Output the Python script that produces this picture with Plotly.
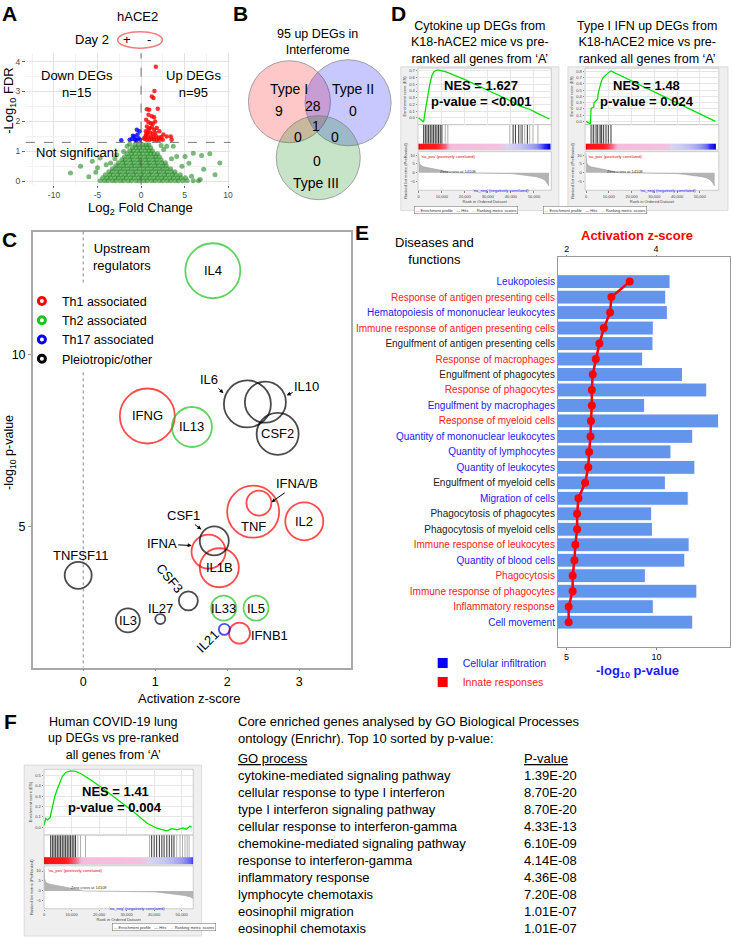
import plotly.graph_objects as go

W, H = 734, 938
FONT = "Arial, Liberation Sans, sans-serif"

# ============================ DATA ============================
# ---- A: volcano (log2 fold change vs -log10 FDR) ----
A_UP_X = [1.70, 1.54, 1.24, 1.43, 0.67, 0.93, 1.92, 0.86, 1.24, 1.50, 0.59, 0.86, 1.12, 1.35, 1.62, 0.67,
          0.97, 1.24, 1.50, 1.81, 0.55, 0.74, 1.05, 1.35, 1.66, 2.11, 2.57, 0.51, 0.82, 1.12, 1.43, 1.73,
          2.04, 2.34, 2.95, 3.41, 0.44, 0.67, 0.97, 1.24, 1.50, 1.81, 2.11, 2.49, 3.52, 0.36, 0.59, 0.86]
A_UP_Y = [3.83, 3.02, 2.83, 2.78, 2.41, 2.39, 2.42, 2.22, 2.17, 2.14, 2.06, 1.97, 1.94, 1.92, 2.00, 1.83,
          1.78, 1.81, 1.72, 1.78, 1.67, 1.61, 1.63, 1.59, 1.61, 1.67, 1.56, 1.50, 1.48, 1.50, 1.48, 1.50,
          1.46, 1.48, 1.50, 1.50, 1.41, 1.39, 1.39, 1.41, 1.39, 1.38, 1.39, 1.39, 1.39, 1.44, 1.56, 1.72]
A_DOWN_X = [-2.27, -1.05, -0.74, -0.48, -0.40, -0.67, -0.29, -0.93, -0.17, -0.55, -1.31, -0.10]
A_DOWN_Y = [1.37, 1.41, 1.50, 1.72, 1.56, 1.39, 1.44, 1.52, 1.67, 1.37, 1.39, 1.39]
A_NS_ROWS = [
    (0.02, [-4.7, -4.2, -3.8, -3.3, -2.9, -2.4, -2.0, -1.5, -1.1, -0.6, -0.2, 0.3, 0.7, 1.2, 1.6, 2.1, 2.5, 3.0, 3.4, 3.9, 4.3, 4.8, 5.3, 6.0, 6.6]),
    (0.12, [-4.4, -3.9, -3.5, -3.0, -2.6, -2.1, -1.7, -1.2, -0.8, -0.3, 0.1, 0.6, 1.0, 1.5, 1.9, 2.4, 2.8, 3.3, 3.7, 4.2, 4.6, 5.1]),
    (0.22, [-4.1, -3.6, -3.2, -2.7, -2.3, -1.8, -1.4, -0.9, -0.5, 0.0, 0.4, 0.9, 1.3, 1.8, 2.2, 2.7, 3.1, 3.6, 4.0, 4.5]),
    (0.32, [-3.7, -3.3, -2.8, -2.4, -1.9, -1.5, -1.0, -0.6, -0.1, 0.3, 0.8, 1.2, 1.7, 2.1, 2.6, 3.0, 3.5, 3.9]),
    (0.42, [-3.3, -2.9, -2.4, -2.0, -1.5, -1.1, -0.6, -0.2, 0.3, 0.7, 1.2, 1.6, 2.1, 2.5, 3.0, 3.4]),
    (0.52, [-2.9, -2.5, -2.0, -1.6, -1.1, -0.7, -0.2, 0.2, 0.7, 1.1, 1.6, 2.0, 2.5, 2.9]),
    (0.62, [-2.6, -2.1, -1.7, -1.2, -0.8, -0.3, 0.1, 0.6, 1.0, 1.5, 1.9, 2.4, 2.8]),
    (0.72, [-2.2, -1.8, -1.3, -0.9, -0.4, 0.0, 0.5, 0.9, 1.4, 1.8, 2.3]),
    (0.82, [-1.9, -1.4, -1.0, -0.5, -0.1, 0.4, 0.8, 1.3, 1.7, 2.1]),
    (0.92, [-1.6, -1.1, -0.7, -0.2, 0.2, 0.7, 1.1, 1.5, 1.9]),
    (1.02, [-1.3, -0.9, -0.4, 0.0, 0.5, 0.9, 1.3]),
    (1.12, [-1.0, -0.6, -0.2, 0.3, 0.7, 1.1]),
    (1.22, [-0.7, -0.3, 0.2, 0.6, 0.9]),
]
A_NS_OUT_X = [-8.1, -6.95, -5.6, -4.7, -3.5, -2.8, -5.2, -6.0, 5.05, 6.0, 6.95, 7.9, 9.05, 8.5, 6.8, 5.8,
              4.1, 3.7, 2.95, 2.6, -1.6, -2.0, 4.7, 5.5, -4.0, 3.5, -3.0, 2.3, -1.3, -5.0, 7.2]
A_NS_OUT_Y = [0.28, 0.50, 0.67, 0.78, 0.61, 0.89, 0.30, 0.15, 0.83, 0.94, 0.86, 0.92, 0.61, 0.22, 0.06, 0.17,
              0.83, 1.17, 1.17, 1.06, 1.17, 1.00, 0.50, 0.60, 0.55, 0.75, 0.75, 1.20, 1.25, 0.45, 0.40]
A_X_TICKS = [-10, -5, 0, 5, 10]
A_Y_TICKS = [0, 1, 2, 3, 4]
A_FDR_CUT = 1.3

# ---- B: Venn of 95 up DEGs in Interferome ----
VENN_SETS = ["Type I", "Type II", "Type III"]
VENN_REGIONS = ["I", "I&II", "II", "I&II&III", "I&III", "II&III", "III"]
VENN_COUNTS = [9, 28, 0, 1, 0, 0, 0]

# ---- C: upstream regulators ----
C_NAMES = ['IL4', 'IFNG', 'IL13', 'IL6', 'IL10', 'CSF2', 'IFNA/B', 'TNF', 'IL2', 'CSF1',
           'IFNA', 'IL1B', 'TNFSF11', 'CSF3', 'IL27', 'IL3', 'IL33', 'IL5', 'IL21', 'IFNB1']
C_ZSCORE = [1.80, 0.89, 1.51, 2.28, 2.53, 2.70, 2.44, 2.36, 3.07, 1.82,
            1.74, 1.89, -0.07, 1.46, 1.07, 0.62, 1.95, 2.40, 1.96, 2.17]
C_NEGLOGP = [12.44, 8.22, 7.90, 8.57, 8.62, 7.70, 5.69, 5.44, 5.16, 4.59,
             4.28, 3.81, 3.59, 2.85, 2.32, 2.28, 2.64, 2.64, 2.02, 1.91]
C_BUBBLE = [55, 55, 40, 47, 41, 42, 25, 52, 38, 29, 34, 39, 27, 19, 10, 24, 25, 25, 11, 21]
C_GROUP = ['Th2', 'Th1', 'Th2', 'Other', 'Other', 'Other', 'Th1', 'Th1', 'Th1', 'Other',
           'Th1', 'Th1', 'Other', 'Other', 'Other', 'Other', 'Th2', 'Th2', 'Th17', 'Th1']
C_GROUP_ORDER = ['Th1', 'Th2', 'Th17', 'Other']
C_GROUP_LABEL = {'Th1': 'Th1 associated', 'Th2': 'Th2 associated', 'Th17': 'Th17 associated',
                 'Other': 'Pleiotropic/other'}

# ---- D / F: GSEA (shared pre-ranked list from 'A') ----
RANK_M = [0, 200, 600, 1200, 2000, 3500, 5000, 7000, 9000, 11000, 13000, 14100, 20000, 30000,
          37000, 40000, 43000, 46000, 49000, 51000, 53000, 54500, 55500, 56500]
METRIC = [11, 6, 4.5, 3.8, 3.4, 3.0, 2.6, 2.2, 1.8, 1.2, 0.5, 0.0, -0.05, -0.1,
          -0.2, -0.5, -0.9, -1.3, -1.8, -2.3, -3.0, -4.0, -5.5, -7.5]
RANK_TICKS = [0, 10000, 20000, 30000, 40000, 50000]
RANK_TICKTEXT = ['0', '10,000', '20,000', '30,000', '40,000', '50,000']

D1_RANK = [0, 2155, 2600, 3200, 3800, 4310, 4740, 5300, 5747, 6465, 7183, 8300, 10057, 11493, 12643,
           20100, 28700, 39500, 43800, 48100, 51700, 56750]
D1_ES = [0.0, -0.06, 0.05, 0.17, 0.32, 0.44, 0.49, 0.57, 0.63, 0.68, 0.70, 0.715, 0.705, 0.69, 0.675,
         0.57, 0.43, 0.26, 0.18, 0.13, 0.064, -0.015]
D1_HITS_LEAD = [2155, 2873, 3592, 4310, 5028, 5747, 6465, 7183, 7902, 8620, 9338, 10057,
                40945, 41950, 43387, 44823, 47122]
D1_HITS_OTHER = [11493, 12643, 39508, 44105, 45973, 48128, 49565, 51720]

D2_RANK = [0, 1900, 2185, 3351, 3500, 4370, 5100, 5300, 6119, 6847, 7721, 8741, 9760, 10927,
           20000, 30000, 40000, 50000, 56800]
D2_ES = [0.0, -0.04, 0.21, 0.23, 0.30, 0.34, 0.36, 0.45, 0.55, 0.66, 0.71, 0.75, 0.78, 0.81,
         0.65, 0.47, 0.30, 0.12, 0.0]
D2_HITS_LEAD = [2185, 3351, 4370, 5100, 6119, 6847, 7721, 8741, 9760, 10927]
D2_HITS_OTHER = [2900, 6500]

F_RANK = [0, 602, 1204, 2168, 2650, 3372, 3974, 4817, 5780, 6623, 7828, 9634, 11440, 13246, 16860,
          21680, 26500, 32500, 37300, 40900, 44560, 46400, 48200, 50300, 51800, 53000, 53600]
F_ES = [0.02, 0.085, 0.07, 0.09, 0.15, 0.24, 0.305, 0.37, 0.43, 0.49, 0.53, 0.545, 0.54, 0.52, 0.46,
        0.37, 0.27, 0.15, 0.04, -0.01, -0.035, -0.015, -0.025, -0.01, -0.02, 0.01, 0.0]
F_HITS_LEAD = [2408, 3011, 3613, 4215, 4817, 5419, 6021, 6623, 7225, 7828, 8430, 9032, 9634, 10236,
               10838, 11440, 39100, 40000, 40900, 41900, 42800, 43600, 44600, 45500, 46400, 47200]
F_HITS_OTHER = [12283, 13246, 15053, 38300, 48200, 49400, 50300, 51200, 52000, 52700]

# ---- E: diseases and functions ----
E_TERMS = ["Leukopoiesis", "Response of antigen presenting cells", "Hematopoiesis of mononuclear leukocytes",
           "Immune response of antigen presenting cells", "Engulfment of antigen presenting cells",
           "Response of macrophages", "Engulfment of phagocytes", "Response of phagocytes",
           "Engulfment by macrophages", "Response of myeloid cells", "Quantity of mononuclear leukocytes",
           "Quantity of lymphocytes", "Quantity of leukocytes", "Engulfment of myeloid cells",
           "Migration of cells", "Phagocytosis of phagocytes", "Phagocytosis of myeloid cells",
           "Immune response of leukocytes", "Quantity of blood cells", "Phagocytosis",
           "Immune response of phagocytes", "Inflammatory response", "Cell movement"]
E_NEGLOGP = [10.75, 10.51, 10.60, 9.82, 9.80, 9.23, 11.44, 12.79, 9.34, 13.45, 12.01, 10.80,
             12.13, 10.49, 11.76, 9.73, 9.77, 11.81, 11.57, 9.38, 12.24, 9.82, 12.01]
E_ZSCORE = [3.41, 3.00, 2.97, 2.83, 2.73, 2.65, 2.58, 2.56, 2.56, 2.54, 2.53, 2.50,
            2.48, 2.41, 2.26, 2.23, 2.23, 2.19, 2.17, 2.13, 2.13, 2.04, 2.04]
E_CATEGORY = ["infiltration", "innate", "infiltration", "innate", "other", "innate", "other", "innate",
              "infiltration", "innate", "infiltration", "infiltration", "infiltration", "other",
              "infiltration", "other", "other", "innate", "infiltration", "innate", "innate", "innate",
              "infiltration"]

# ---- F: GO table ----
GO_PROCESS = ["cytokine-mediated signaling pathway", "cellular response to type I interferon",
              "type I interferon signaling pathway", "cellular response to interferon-gamma",
              "chemokine-mediated signaling pathway", "response to interferon-gamma",
              "inflammatory response", "lymphocyte chemotaxis", "eosinophil migration",
              "eosinophil chemotaxis"]
GO_PVALUE = ["1.39E-20", "8.70E-20", "8.70E-20", "4.33E-13", "6.10E-09", "4.14E-08",
             "4.36E-08", "7.20E-08", "1.01E-07", "1.01E-07"]

# ============================ HELPERS ============================
def dx(a, b):
    return [a / W, b / W]


def dy(top, bottom):
    return [1 - bottom / H, 1 - top / H]


fig = go.Figure()
ANN, SHAPES, AX = [], [], {}


def txt(s, xp, yp, size=12, color='black', bold=False, xanchor='center', yanchor='middle', angle=0, **kw):
    if bold:
        s = f'<b>{s}</b>'
    d = dict(text=s, x=xp / W, y=1 - yp / H, xref='paper', yref='paper', showarrow=False,
             font=dict(size=size, color=color, family=FONT), xanchor=xanchor, yanchor=yanchor,
             textangle=angle)
    d.update(kw)
    ANN.append(d)


# ============================ PANEL A ============================
ns_x = [x for y, xs in A_NS_ROWS for x in xs] + A_NS_OUT_X
ns_y = [y for y, xs in A_NS_ROWS for x in xs] + A_NS_OUT_Y
fig.add_trace(go.Scatter(x=ns_x, y=ns_y, mode='markers', marker=dict(size=5, color='rgba(34,139,34,0.6)'),
                         xaxis='x', yaxis='y', showlegend=False, hoverinfo='skip'))
fig.add_trace(go.Scatter(x=A_UP_X, y=A_UP_Y, mode='markers', marker=dict(size=4.5, color='rgba(255,0,0,0.8)'),
                         xaxis='x', yaxis='y', showlegend=False, hoverinfo='skip'))
fig.add_trace(go.Scatter(x=A_DOWN_X, y=A_DOWN_Y, mode='markers', marker=dict(size=4.5, color='rgba(0,0,255,0.8)'),
                         xaxis='x', yaxis='y', showlegend=False, hoverinfo='skip'))
AX['xaxis'] = dict(domain=dx(25, 230.7), range=[-13.23, 10.27], anchor='y', tickvals=A_X_TICKS,
                   ticktext=[str(v) for v in A_X_TICKS], ticks='outside', ticklen=2, tickcolor='#666',
                   tickfont=dict(size=8.5, color='#4d4d4d'), showgrid=True, gridcolor='#e3e3e3',
                   zeroline=False, minor=dict(tickvals=[-12.5, -7.5, -2.5, 2.5, 7.5], showgrid=True,
                                              gridcolor='#f2f2f2'))
AX['yaxis'] = dict(domain=dy(53.3, 185), range=[-0.11, 4.28], anchor='x', tickvals=A_Y_TICKS,
                   ticks='outside', ticklen=3, tickcolor='#666', tickfont=dict(size=8.5, color='#4d4d4d'),
                   showgrid=True, gridcolor='#e3e3e3', zeroline=False,
                   minor=dict(tickvals=[0.5, 1.5, 2.5, 3.5], showgrid=True, gridcolor='#f2f2f2'))
SHAPES.append(dict(type='line', xref='x domain', yref='y', x0=0, x1=1, y0=A_FDR_CUT, y1=A_FDR_CUT,
                   line=dict(color='#555', width=0.8, dash='dash')))
SHAPES.append(dict(type='line', xref='x', yref='y domain', x0=0, x1=0, y0=0, y1=1,
                   line=dict(color='#555', width=0.8, dash='dash')))
txt('hACE2', 137.7, 16.7, 13)
txt('Day 2', 91.7, 40, 13)
txt('+', 126.7, 39.3, 13)
txt('-', 149, 39.3, 13)
SHAPES.append(dict(type='circle', xref='paper', yref='paper', x0=117.3 / W, x1=162.3 / W,
                   y0=1 - 48.3 / H, y1=1 - 31.7 / H, line=dict(color='#f07c7c', width=1.5)))
txt('Down DEGs<br>n=15', 76.7, 84.5, 13)
txt('Up DEGs<br>n=95', 193.3, 84, 13)
txt('Not significant', 76.7, 153.3, 13)
txt('-Log<sub>10</sub> FDR', 9, 100, 13, angle=-90)
txt('Log<sub>2</sub> Fold Change', 140, 208.5, 13)

# ============================ PANEL B ============================
VENN_CX = [-0.69, 0.714, 0.0]
VENN_CY = [0.43, 0.405, -0.905]
VENN_R = [0.976, 1.024, 1.0]
VENN_FILL = ['rgba(255,0,0,0.3)', 'rgba(0,0,255,0.3)', 'rgba(0,128,0,0.3)']
fig.add_trace(go.Scatter(x=VENN_CX, y=VENN_CY, mode='markers', cliponaxis=False,
                         marker=dict(size=[2 * r * 42 for r in VENN_R], color=VENN_FILL,
                                     line=dict(color='#777', width=1)),
                         xaxis='x2', yaxis='y2', showlegend=False, hoverinfo='skip'))
AX['xaxis2'] = dict(domain=dx(235, 403), range=[-2, 2], anchor='y2', visible=False)
AX['yaxis2'] = dict(domain=dy(36, 204), range=[-2, 2], anchor='x2', visible=False)
REGION_POS = [(-0.95, 0.20), (-0.12, 0.32), (0.82, 0.20), (-0.06, -0.14), (-0.49, -0.40), (0.40, -0.40),
              (-0.02, -0.99)]
SET_POS = [(-0.69, 0.73), (0.83, 0.73), (-0.06, -1.51)]
for (px_, py_), c in zip(REGION_POS, VENN_COUNTS):
    ANN.append(dict(text=str(c), x=px_, y=py_, xref='x2', yref='y2', showarrow=False,
                    font=dict(size=14, family=FONT, color='black')))
for (px_, py_), s in zip(SET_POS, VENN_SETS):
    ANN.append(dict(text=s, x=px_, y=py_, xref='x2', yref='y2', showarrow=False,
                    font=dict(size=14, family=FONT, color='black')))
txt('95 up DEGs in<br>Interferome', 318.3, 42.5, 12.5)

# ============================ PANEL C ============================
C_COLORS = {'Th1': '#ff0000', 'Th2': '#1ec21e', 'Th17': '#0000ff', 'Other': '#000000'}
for g in C_GROUP_ORDER:
    idx = [i for i, gg in enumerate(C_GROUP) if gg == g]
    fig.add_trace(go.Scatter(x=[C_ZSCORE[i] for i in idx], y=[C_NEGLOGP[i] for i in idx], mode='markers',
                             cliponaxis=False, name=C_GROUP_LABEL[g],
                             marker=dict(size=[C_BUBBLE[i] for i in idx], color='rgba(0,0,0,0)',
                                         line=dict(color=C_COLORS[g], width=1.8)),
                             xaxis='x3', yaxis='y3', showlegend=False, hoverinfo='skip'))
for g in C_GROUP_ORDER:
    fig.add_trace(go.Scatter(x=[None], y=[None], mode='markers', name=C_GROUP_LABEL[g],
                             marker=dict(size=7, color='white', line=dict(color=C_COLORS[g], width=3)),
                             xaxis='x3', yaxis='y3', showlegend=True, legend='legend'))
AX['xaxis3'] = dict(domain=dx(32, 352), range=[-0.70, 3.72], anchor='y3', tickvals=[0, 1, 2, 3],
                    ticks='outside', ticklen=2, tickcolor='#999', tickfont=dict(size=12.5),
                    showline=True, mirror=True, linecolor='#a8a8a8', linewidth=1.5, showgrid=False, zeroline=False)
AX['yaxis3'] = dict(domain=dy(232, 669), range=[0.91, 13.58], anchor='x3', tickvals=[5, 10],
                    ticks='outside', ticklen=3, tickcolor='#999', tickfont=dict(size=12.5),
                    showline=True, mirror=True, linecolor='#a8a8a8', linewidth=1.5, showgrid=False, zeroline=False)
SHAPES.append(dict(type='line', xref='x3', yref='y3 domain', x0=0, x1=0, y0=1, y1=0.883,
                   line=dict(color='#888', width=1, dash='dot')))
SHAPES.append(dict(type='line', xref='x3', yref='y3 domain', x0=0, x1=0, y0=0.677, y1=0,
                   line=dict(color='#888', width=1, dash='dot')))
C_LABEL_STYLE = {'IL4': (0, 0, 0), 'IFNG': (0, 0, 0), 'IL13': (0, 0, 0), 'CSF2': (0, 0, 0), 'IL2': (0, 0, 0),
                 'IL1B': (0, 0, 0), 'IL33': (0, 0, 0), 'IL5': (0, 0, 0), 'IL3': (0, 0, 0),
                 'TNF': (0, 14.5, 0), 'TNFSF11': (2, -20, 0), 'IL27': (0.5, -11, 0),
                 'CSF3': (-18.5, -22.3, 50), 'IL21': (-17, 12, -45), 'IFNB1': (30, 2, 0)}
C_ARROWS = {'IL6': (-24, -10.7, -14, -14), 'IL10': (21.3, -7, 20, -9), 'IFNA/B': (12.5, -0.9, 26, -18.3),
            'CSF1': (-13, -11.5, -18, -14), 'IFNA': (-16.8, -6, -30, -1.7)}
for n, z, p in zip(C_NAMES, C_ZSCORE, C_NEGLOGP):
    if n in C_ARROWS:
        hx, hy, tx, ty = C_ARROWS[n]
        ANN.append(dict(text=n, x=z, y=p, xref='x3', yref='y3', xshift=hx, yshift=-hy, showarrow=True,
                        ax=tx, ay=ty, arrowhead=2, arrowsize=0.8, arrowwidth=1, arrowcolor='black',
                        font=dict(size=13, family=FONT, color='black')))
    else:
        ddx, ddy, ang = C_LABEL_STYLE[n]
        ANN.append(dict(text=n, x=z, y=p, xref='x3', yref='y3', xshift=ddx, yshift=-ddy, showarrow=False,
                        textangle=ang, font=dict(size=13, family=FONT, color='black')))
txt('Upstream<br>regulators', 121.7, 258, 13)
txt('-log<sub>10</sub> p-value', 9, 453, 12.5, angle=-90)
txt('Activation z-score', 190, 700, 13)

# ============================ PANELS D & F (GSEA) ============================
RANK_CS = [[0, '#0000c8'], [0.19, '#2a2aff'], [0.28, '#8c8cf0'], [0.35, '#c4c4f2'], [0.392, '#d9d6f2'],
           [0.397, '#f5c0de'], [0.43, '#f3b2d2'], [0.465, '#f06a84'], [0.52, '#ff1a1a'], [1, '#e00000']]


def add_gsea(n, frame, es_y, hits_y, met_y, xpx, xrange, rank, es, es_range, es_ticks, hits_k, hits_g,
             met_range, nes, pval, nes_xy, leg_xy):
    e, h, m = n, n + 1, n + 2
    SHAPES.append(dict(type='rect', xref='paper', yref='paper', x0=frame[0] / W, x1=frame[1] / W,
                       y0=1 - frame[3] / H, y1=1 - frame[2] / H, fillcolor='#efefef',
                       line=dict(color='#d4d4d4', width=0.8), layer='below'))
    for k in (e, h, m):
        SHAPES.append(dict(type='rect', xref=f'x{k} domain', yref=f'y{k} domain', x0=0, x1=1, y0=0, y1=1,
                           fillcolor='white', line=dict(color='#b0b0b0', width=0.6), layer='below'))
    fig.add_trace(go.Scatter(x=rank, y=es, mode='lines', line=dict(color='#00e000', width=1.3),
                             xaxis=f'x{e}', yaxis=f'y{e}', showlegend=False, hoverinfo='skip'))
    for hits, col in ((hits_g, '#9a9a9a'), (hits_k, '#000000')):
        hx, hy = [], []
        for r in hits:
            hx += [r, r, None]
            hy += [0.24, 1.0, None]
        fig.add_trace(go.Scatter(x=hx, y=hy, mode='lines', line=dict(color=col, width=0.8),
                                 xaxis=f'x{h}', yaxis=f'y{h}', showlegend=False, hoverinfo='skip'))
    fig.add_trace(go.Heatmap(x=RANK_M, y=[0.06, 0.18], z=[METRIC, METRIC], zmin=min(METRIC), zmax=max(METRIC),
                             colorscale=RANK_CS, zsmooth='best', showscale=False,
                             xaxis=f'x{h}', yaxis=f'y{h}', hoverinfo='skip'))
    fig.add_trace(go.Scatter(x=RANK_M, y=METRIC, mode='lines', fill='tozeroy',
                             line=dict(color='#9e9e9e', width=0.6), fillcolor='#b4b4b4',
                             xaxis=f'x{m}', yaxis=f'y{m}', showlegend=False, hoverinfo='skip'))
    tiny = dict(size=4, color='#444')
    AX[f'xaxis{e}'] = dict(domain=dx(*xpx), range=xrange, anchor=f'y{e}', showticklabels=False, ticks='',
                           showgrid=True, gridcolor='#e6e6e6', gridwidth=0.5, tick0=0, dtick=10000,
                           zeroline=False)
    AX[f'yaxis{e}'] = dict(domain=dy(*es_y), range=es_range, anchor=f'x{e}', tickvals=es_ticks,
                           ticktext=[f'{v:.1f}' for v in es_ticks], tickfont=tiny, ticks='outside',
                           ticklen=1.5, tickwidth=0.5, tickcolor='#888', showgrid=True, gridcolor='#e6e6e6',
                           gridwidth=0.5, zeroline=False,
                           title=dict(text='Enrichment score (ES)', font=dict(size=4, color='#444'), standoff=2))
    AX[f'xaxis{h}'] = dict(domain=dx(*xpx), range=xrange, anchor=f'y{h}', visible=False)
    AX[f'yaxis{h}'] = dict(domain=dy(*hits_y), range=[0, 1], anchor=f'x{h}', visible=False)
    AX[f'xaxis{m}'] = dict(domain=dx(*xpx), range=xrange, anchor=f'y{m}', tickvals=RANK_TICKS,
                           ticktext=RANK_TICKTEXT, tickfont=tiny, ticks='outside', ticklen=1.5, tickwidth=0.5,
                           tickcolor='#888', showgrid=False, zeroline=False,
                           title=dict(text='Rank in Ordered Dataset', font=dict(size=4, color='#444'), standoff=1))
    AX[f'yaxis{m}'] = dict(domain=dy(*met_y), range=met_range, anchor=f'x{m}', tickvals=[10, 5, 0, -5],
                           tickfont=tiny, ticks='outside', ticklen=1.5, tickwidth=0.5,
                           tickcolor='#888', showgrid=False, zeroline=False,
                           title=dict(text='Ranked list metric (PreRanked)', font=dict(size=4, color='#444'),
                                      standoff=2))
    for s, xx, yy, col, anc in (("'na_pos' (positively correlated)", 0.01, 0.99, '#e00000', 'left'),
                                ("Zero cross at 14108", 0.3, 0.6, '#333333', 'center'),
                                ("'na_neg' (negatively correlated)", 0.62, 0.12, '#2020ff', 'center')):
        ANN.append(dict(text=s, xref=f'x{m} domain', yref=f'y{m} domain', x=xx, y=yy, showarrow=False,
                        xanchor=anc, yanchor='top', font=dict(size=4, color=col, family=FONT)))
    ANN.append(dict(text="<span style='color:#00d000'>—</span> Enrichment profile   — Hits   "
                         "<span style='color:#c0c0c0'>—</span> Ranking metric scores",
                    x=leg_xy[0] / W, y=1 - leg_xy[1] / H, xref='paper', yref='paper', showarrow=False,
                    font=dict(size=4, family=FONT, color='#333'), bordercolor='#666', borderwidth=0.5,
                    borderpad=1, bgcolor='white'))
    txt(nes, nes_xy[0][0], nes_xy[0][1], 13, bold=True)
    txt(pval, nes_xy[1][0], nes_xy[1][1], 13, bold=True)


add_gsea(6, (402, 561, 67, 211), (68.3, 125), (125, 150), (152, 190.7), (419.3, 553.3), [-300, 57500],
         D1_RANK, D1_ES, [-0.1, 0.74], [0, 0.1, 0.2, 0.3, 0.4, 0.5, 0.6, 0.7], D1_HITS_LEAD, D1_HITS_OTHER,
         [-10, 12], 'NES = 1.627', 'p-value = &lt;0.001', ((482.7, 86), (482.7, 101.7)), (467.5, 206.5))
add_gsea(9, (570, 731, 67, 211), (68.3, 125), (125, 150), (152, 190.7), (587.3, 721.7), [-440, 58300],
         D2_RANK, D2_ES, [-0.053, 0.854], [0, 0.1, 0.2, 0.3, 0.4, 0.5, 0.6, 0.7, 0.8], D2_HITS_LEAD,
         D2_HITS_OTHER, [-10, 12], 'NES = 1.48', 'p-value = 0.024', ((649.3, 86), (649.3, 101.7)),
         (649.7, 206.5))
add_gsea(12, (23.3, 201.7, 766.7, 938), (771, 836.7), (837, 866), (867.7, 910.7), (43.3, 193.3), [0, 54200],
         F_RANK, F_ES, [-0.075, 0.56], [0, 0.1, 0.2, 0.3, 0.4, 0.5], F_HITS_LEAD, F_HITS_OTHER,
         [-9, 12.6], 'NES = 1.41', 'p-value = 0.004', ((115, 792.7), (115, 809)), (111.7, 933))

txt('Cytokine up DEGs from<br>K18-hACE2 mice vs pre-<br>ranked all genes from ‘A’', 481.7, 42.7, 12.5)
txt('Type I IFN up DEGs from<br>K18-hACE2 mice vs pre-<br>ranked all genes from ‘A’', 649.3, 42.7, 12.5)
txt('Human COVID-19 lung<br>up DEGs vs pre-ranked<br>all genes from ‘A’', 113, 740, 12.5)

# ============================ PANEL E ============================
E_COLORS = {'infiltration': '#1a1aff', 'innate': '#ff1a1a', 'other': '#222222'}
fig.add_trace(go.Bar(x=E_NEGLOGP, y=E_TERMS, orientation='h', width=0.9,
                     marker=dict(color='#6495ED', line=dict(color='white', width=1)),
                     xaxis='x4', yaxis='y4', showlegend=False, hoverinfo='skip'))
fig.add_trace(go.Scatter(x=E_ZSCORE, y=E_TERMS, mode='lines+markers', line=dict(color='#ff0000', width=2.5),
                         marker=dict(color='#ff0000', size=8), xaxis='x5', yaxis='y4', showlegend=False,
                         hoverinfo='skip'))
for cat, lab in (('infiltration', 'Cellular infiltration'), ('innate', 'Innate responses')):
    fig.add_trace(go.Scatter(x=[None], y=[None], mode='markers', name=f"<span style='color:{E_COLORS[cat]}'>{lab}</span>",
                             marker=dict(symbol='square', size=10, color='#0000ff' if cat == 'infiltration' else '#ff0000'),
                             xaxis='x4', yaxis='y4', legend='legend2', showlegend=True))
AX['xaxis4'] = dict(domain=dx(560, 733), range=[4.52, 14.08], anchor='y4', tickvals=[5, 10], ticks='outside',
                    ticklen=2, tickcolor='#888', tickfont=dict(size=9), showline=True, mirror=True,
                    linecolor='#999', linewidth=1, showgrid=False, zeroline=False)
AX['xaxis5'] = dict(overlaying='x4', side='top', range=[1.80, 5.66], anchor='y4', tickvals=[2, 4],
                    ticks='outside', ticklen=1, tickcolor='#888', tickfont=dict(size=9), showline=False,
                    showgrid=False, zeroline=False)
AX['yaxis4'] = dict(domain=dy(257.7, 648), type='category', categoryorder='array', categoryarray=E_TERMS,
                    autorange='reversed', anchor='x4', tickvals=E_TERMS,
                    ticktext=[f"<span style='color:{E_COLORS[c]}'>{t}</span>" for t, c in zip(E_TERMS, E_CATEGORY)],
                    tickfont=dict(size=10), ticks='', showline=True, mirror=True, linecolor='#999',
                    linewidth=1, showgrid=False, zeroline=False)
txt('Diseases and<br>functions', 436.3, 251.3, 13)
txt('Activation z-score', 639.3, 236.5, 13, color='#ff0000', bold=True)
txt('-log<sub>10</sub> p-value', 640, 673, 13, color='#1a1aff', bold=True)

# ============================ F TABLE ============================
txt('Core enriched genes analysed by GO Biological Processes<br>ontology (Enrichr). Top 10 sorted by p-value:',
    236, 732, 13, xanchor='left', align='left')
txt('<u>GO process</u>', 236, 760, 13, xanchor='left')
txt('<u>P-value</u>', 524.3, 760, 13, xanchor='left')
for i, (proc, pv) in enumerate(zip(GO_PROCESS, GO_PVALUE)):
    txt(proc, 236, 777 + 17 * i, 13, xanchor='left')
    txt(pv, 524.3, 777 + 17 * i, 13, xanchor='left')

# ============================ PANEL LETTERS ============================
for L, xp, yp in (('A', 9, 14), ('B', 241, 14), ('D', 400, 14), ('C', 9, 240), ('E', 362.5, 232.5),
                  ('F', 9.7, 723)):
    txt(L, xp, yp, 21, bold=True)

fig.update_layout(width=W, height=H, margin=dict(l=0, r=0, t=0, b=0, pad=0), paper_bgcolor='white',
                  plot_bgcolor='rgba(0,0,0,0)', font=dict(family=FONT, size=12, color='black'),
                  annotations=ANN, shapes=SHAPES, hovermode=False,
                  legend=dict(x=21 / W, y=1 - 287 / H, xanchor='left', yanchor='top', font=dict(size=12.5),
                              bgcolor='rgba(0,0,0,0)', itemsizing='trace', tracegroupgap=0),
                  legend2=dict(x=424 / W, y=1 - 650 / H, xanchor='left', yanchor='top', font=dict(size=10.5),
                               bgcolor='rgba(0,0,0,0)', itemsizing='trace', tracegroupgap=0),
                  **AX)

fig.write_html("out.html", config={'displayModeBar': False},
               post_script="document.body.style.margin='0';")
